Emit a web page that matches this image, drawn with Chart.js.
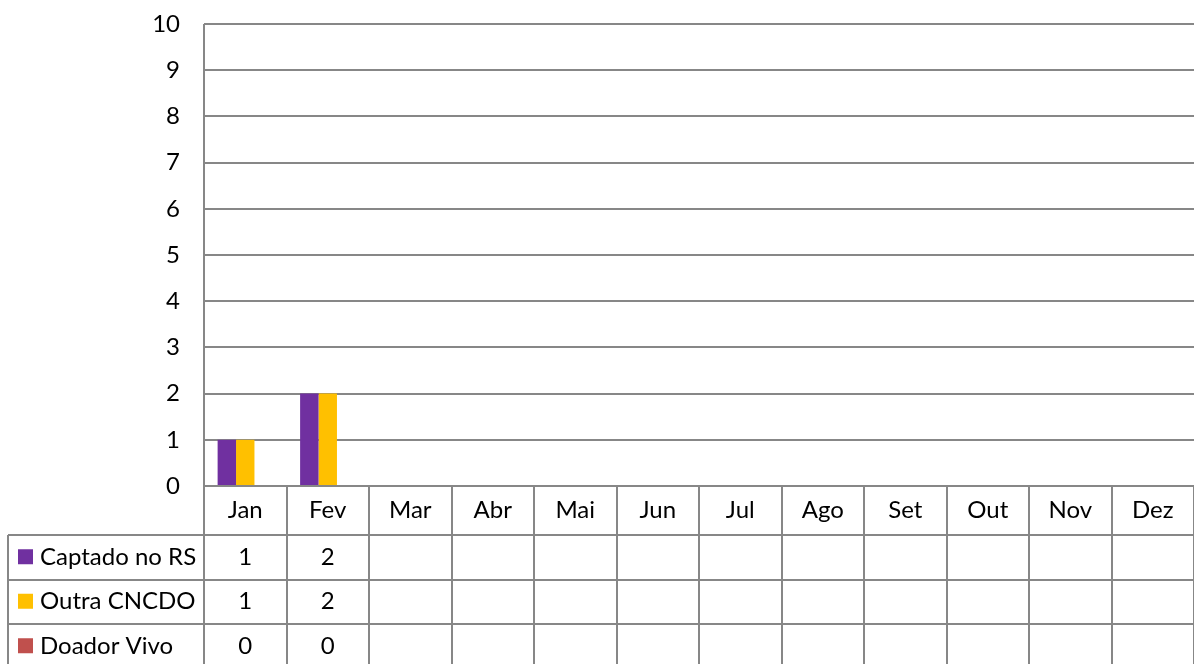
<!DOCTYPE html>
<html>
<head>
<meta charset="utf-8">
<script src="https://cdn.jsdelivr.net/npm/chart.js@4"></script>
<style>
  html, body { margin: 0; padding: 0; background: #fff; }
  #wrap { width: 1194px; height: 664px; }
</style>
</head>
<body>
<div id="wrap"><canvas id="myChart" width="1194" height="664"></canvas></div>
<script>
var months = ['Jan', 'Fev', 'Mar', 'Abr', 'Mai', 'Jun', 'Jul', 'Ago', 'Set', 'Out', 'Nov', 'Dez'];
var captadoRS = [1, 2, null, null, null, null, null, null, null, null, null, null];
var outraCNCDO = [1, 2, null, null, null, null, null, null, null, null, null, null];
var doadorVivo = [0, 0, null, null, null, null, null, null, null, null, null, null];

var gridColor = '#878787';
var fontFamily = 'Lato, Calibri, sans-serif';
var fontSize = 24;

// data table under the plot, columns taken from the x scale
var dataTable = {
    id: 'dataTable',
    afterDraw: function (chart) {
        var ctx = chart.ctx;
        var x = chart.scales.x;
        var area = chart.chartArea;
        var colW = (x.right - x.left) / months.length;
        var rowTop = 535, rowH = 44.5, legendLeft = 8;
        var bottom = chart.height;

        ctx.save();
        ctx.strokeStyle = gridColor;
        ctx.lineWidth = 2;
        ctx.beginPath();
        // axis line at the left of plot + table
        ctx.moveTo(area.left, area.top);
        ctx.lineTo(area.left, bottom);
        // column separators
        for (var i = 1; i <= months.length; i++) {
            var cx = Math.round(x.left + colW * i);
            ctx.moveTo(cx, area.bottom);
            ctx.lineTo(cx, bottom);
        }
        // row lines
        for (var r = 0; r < 3; r++) {
            var ry = Math.round(rowTop + r * rowH);
            ctx.moveTo(legendLeft, ry);
            ctx.lineTo(chart.width, ry);
        }
        ctx.moveTo(legendLeft, rowTop);
        ctx.lineTo(legendLeft, bottom);
        ctx.stroke();

        ctx.font = fontSize + 'px ' + fontFamily;
        ctx.textBaseline = 'middle';
        chart.data.datasets.forEach(function (ds, r) {
            var cy = rowTop + r * rowH + rowH / 2;
            ctx.fillStyle = ds.backgroundColor;
            ctx.fillRect(18, cy - 8, 15, 15);
            ctx.fillStyle = '#000';
            ctx.textAlign = 'left';
            ctx.fillText(ds.label, 40, cy);
            ctx.textAlign = 'center';
            ds.data.forEach(function (v, i) {
                if (v === null) return;
                ctx.fillText(String(v), x.getPixelForValue(i), cy);
            });
        });
        ctx.restore();
    }
};

var ctx = document.getElementById('myChart').getContext('2d');
var myChart = new Chart(ctx, {
    type: 'bar',
    data: {
        labels: months,
        datasets: [{
                label: 'Captado no RS',
                data: captadoRS,
                backgroundColor: '#7030A0'
            },
            {
                label: 'Outra CNCDO',
                data: outraCNCDO,
                backgroundColor: '#FFC000'
            },
            {
                label: 'Doador Vivo',
                data: doadorVivo,
                backgroundColor: '#C0504D'
            }
        ]
    },
    options: {
        responsive: false,
        animation: false,
        layout: {
            padding: { top: 24, right: 0, bottom: 0, left: 0 }
        },
        datasets: {
            bar: {
                categoryPercentage: 0.67,
                barPercentage: 1.0
            }
        },
        plugins: {
            legend: { display: false },
            tooltip: { enabled: false }
        },
        scales: {
            x: {
                grid: { display: false, drawTicks: false },
                border: { display: false },
                ticks: {
                    color: '#000',
                    padding: 10,
                    font: { family: fontFamily, size: fontSize },
                    maxRotation: 0
                },
                afterFit: function (scale) { scale.height = 178; }
            },
            y: {
                min: 0,
                max: 10,
                grid: { color: gridColor, lineWidth: 2, tickLength: 24, tickColor: 'rgba(0,0,0,0)' },
                border: { display: false },
                ticks: {
                    stepSize: 1,
                    color: '#000',
                    padding: 0,
                    font: { family: fontFamily, size: fontSize }
                },
                afterFit: function (scale) { scale.width = 204; }
            }
        }
    },
    plugins: [dataTable]
});
</script>
</body>
</html>
